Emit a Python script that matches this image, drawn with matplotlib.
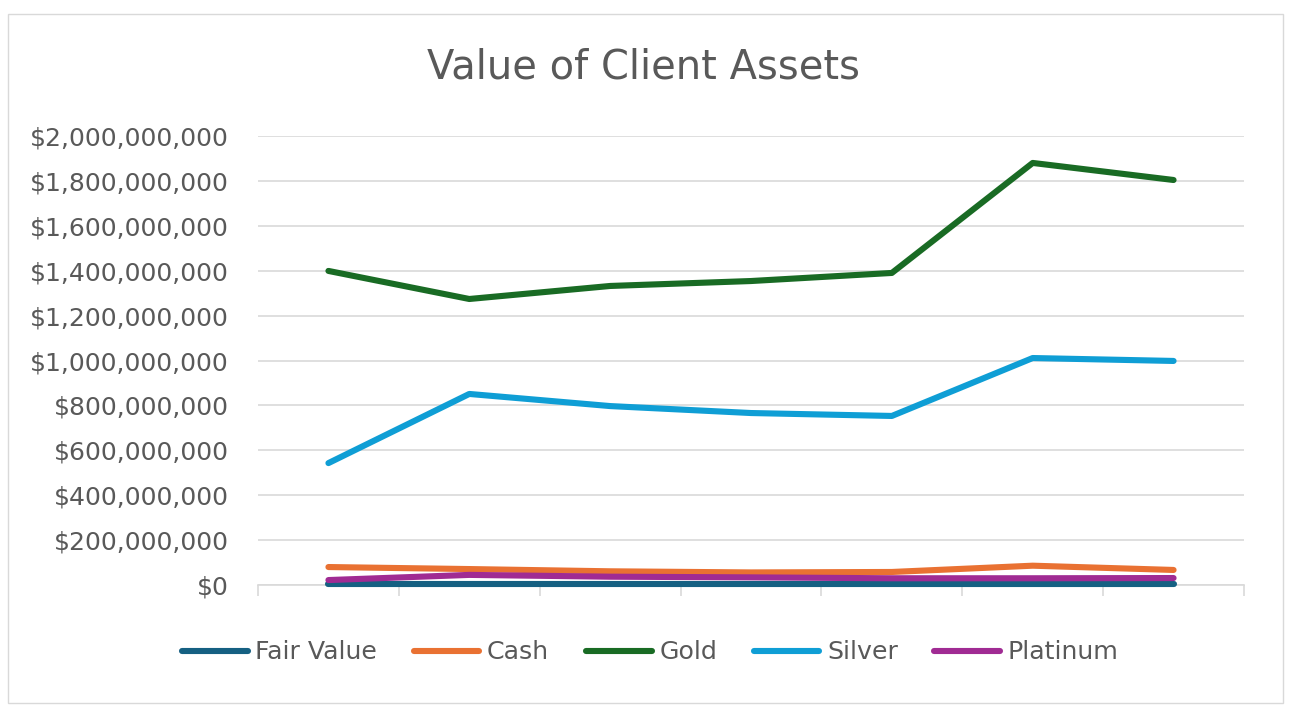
import numpy as np
import matplotlib.pyplot as plt
from matplotlib.ticker import FuncFormatter
from matplotlib.patches import Rectangle

# values (7 periods, no x labels shown)
periods = [1, 2, 3, 4, 5, 6, 7]
fair_value = [3e6, 3e6, 3e6, 3e6, 3e6, 3e6, 3e6]
cash = [80e6, 71e6, 61e6, 56e6, 58e6, 86e6, 67e6]
gold = [1399e6, 1274e6, 1332e6, 1354e6, 1390e6, 1880e6, 1804e6]
silver = [543e6, 851e6, 797e6, 766e6, 753e6, 1011e6, 998e6]
platinum = [22e6, 45e6, 37e6, 34e6, 30e6, 30e6, 31e6]

series_names = ['Fair Value', 'Cash', 'Gold', 'Silver', 'Platinum']
series_values = [fair_value, cash, gold, silver, platinum]
colors = ['#156082', '#E97132', '#196B24', '#0F9ED5', '#A02B93']

plt.rcParams['font.family'] = ['DejaVu Sans']
text_grey = '#595959'
grid_grey = '#D9D9D9'


def main():
    fig = plt.figure(figsize=(12.98, 7.17), dpi=100)
    ax = fig.add_axes([258 / 1298, 132 / 717, (1244 - 258) / 1298, (585 - 136) / 717])

    # outer chart border
    fig.patches.append(Rectangle((8 / 1298, 14 / 717), (1283 - 8) / 1298, (703 - 14) / 717,
                                 transform=fig.transFigure, fill=False,
                                 edgecolor=grid_grey, linewidth=1))

    x = np.arange(len(periods))
    for name, vals, col in zip(series_names, series_values, colors):
        ax.plot(x, vals, color=col, linewidth=4.4, solid_capstyle='round',
                solid_joinstyle='round', label=name, clip_on=False, zorder=3)

    ax.set_xlim(-0.5, len(periods) - 0.5)
    ax.set_ylim(0, 2e9)
    ax.set_yticks(np.arange(0, 2.0001e9, 2e8))
    ax.yaxis.set_major_formatter(FuncFormatter(lambda v, p: f'${v:,.0f}'))
    ax.set_xticks(np.arange(-0.5, len(periods), 1))
    ax.set_xticklabels([])

    ax.grid(axis='y', color=grid_grey, linewidth=1.2)
    ax.set_axisbelow(True)
    for s in ['top', 'right', 'left']:
        ax.spines[s].set_visible(False)
    ax.spines['bottom'].set_color(grid_grey)
    ax.spines['bottom'].set_linewidth(1.2)
    ax.tick_params(axis='y', length=0, labelsize=18, labelcolor=text_grey, pad=21)
    ax.tick_params(axis='x', length=8, color=grid_grey, width=1.2)

    fig.text(0.496, 0.906, 'Value of Client Assets', ha='center', va='center',
             fontsize=28.8, color=text_grey)

    leg = fig.legend(loc='center', bbox_to_anchor=(0.501, 0.09), ncol=5, frameon=False,
                     fontsize=18.2, handlelength=2.6, columnspacing=1.45, handletextpad=0.3)
    for t in leg.get_texts():
        t.set_color(text_grey)

    fig.savefig('out.png', dpi=100)


if __name__ == '__main__':
    main()
